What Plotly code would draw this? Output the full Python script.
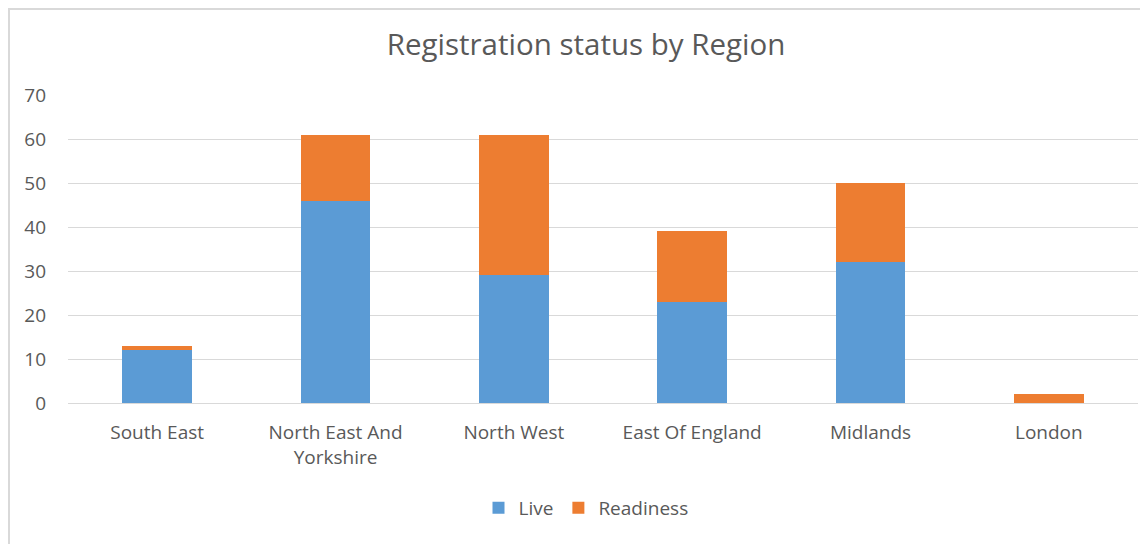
import plotly.graph_objects as go

regions = ["South East", "North East And<br>Yorkshire", "North West", "East Of England", "Midlands", "London"]
live = [12, 46, 29, 23, 32, 0]
readiness = [1, 15, 32, 16, 18, 2]
y_ticks = [0, 10, 20, 30, 40, 50, 60, 70]

FONT = "Open Sans"
GRAY = "#595959"

# page is offset by the 8px body margin; coordinates below are in figure pixels
L, R, T, B = 60, 18, 87, 149
PW, PH = 1148 - L - R, 544 - T - B

fig = go.Figure()
fig.add_trace(go.Bar(name="Live", x=regions, y=live, marker=dict(color="#5B9BD5", line=dict(width=0))))
fig.add_trace(go.Bar(name="Readiness", x=regions, y=readiness, marker=dict(color="#ED7D31", line=dict(width=0))))

fig.update_layout(
    barmode="stack",
    bargap=0.61,
    width=1148, height=544,
    margin=dict(l=L, r=R, t=T, b=B, autoexpand=False),
    paper_bgcolor="white", plot_bgcolor="white",
    title=dict(text="Registration status by Region", x=578 / 1148, xanchor="center", y=1 - 37 / 544, yanchor="middle",
               font=dict(family=FONT, size=29.5, color=GRAY)),
    font=dict(family=FONT, size=19, color=GRAY),
    legend=dict(orientation="h", x=(578 - L) / PW, xanchor="center", y=(395 - 500) / PH, yanchor="middle",
                font=dict(family=FONT, size=19, color=GRAY), itemwidth=30, traceorder="normal"),
    xaxis=dict(showgrid=False, showline=True, linecolor="#D9D9D9", linewidth=1, ticks="",
               ticklabelstandoff=12,
               tickfont=dict(family=FONT, size=19, color=GRAY)),
    yaxis=dict(range=[0, 70], tickvals=y_ticks, showgrid=True, gridcolor="#D9D9D9", gridwidth=1,
               zeroline=False, showline=False, ticks="", ticklabelstandoff=21,
               tickfont=dict(family=FONT, size=19, color=GRAY)),
    shapes=[dict(type="rect", xref="paper", yref="paper",
                 x0=-(L - 1) / PW, x1=1.1, y0=-(B + 30) / PH, y1=1 + (T - 1) / PH,
                 line=dict(color="#D9D9D9", width=2), fillcolor="rgba(0,0,0,0)", layer="below")],
)

fig.write_html("out.html")
